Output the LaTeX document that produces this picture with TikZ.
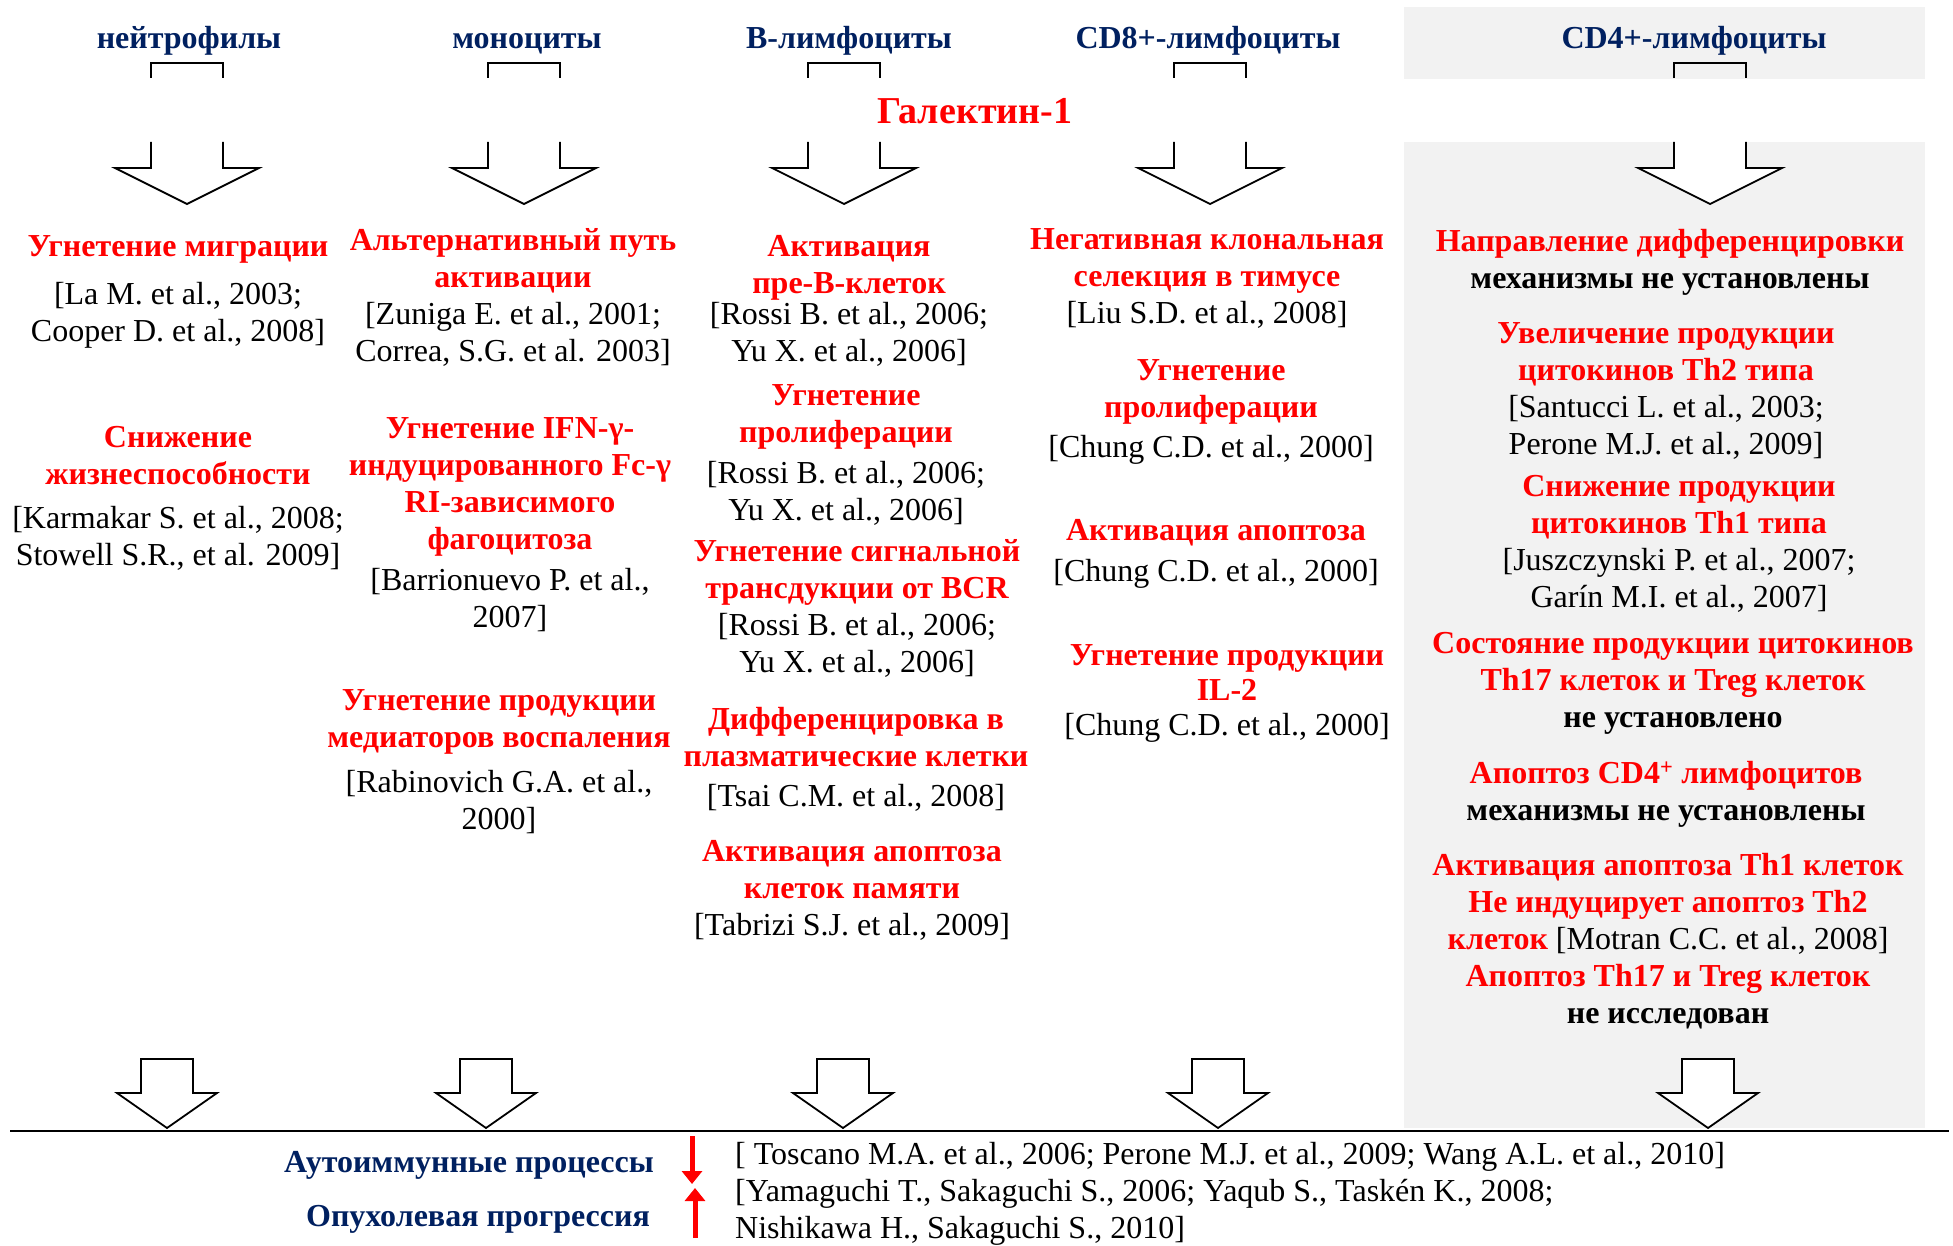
\documentclass[tikz,border=0pt]{standalone}
\usepackage{fontspec}
\setmainfont{Liberation Serif}
\usetikzlibrary{arrows.meta}
\definecolor{navy}{RGB}{0,32,96}
\definecolor{bgrey}{RGB}{242,242,242}
\newcommand{\eff}[1]{\textcolor{red}{\bfseries #1}}
\newcommand{\nb}[1]{\textbf{#1}}

\begin{document}
\begin{tikzpicture}[x=1pt, y=-1pt,
      every node/.style={inner sep=0pt, font=\fontsize{32}{37}\selectfont},
      cell/.style={align=center, anchor=north},
      cellhead/.style={text=navy, anchor=base, font=\fontsize{32}{37}\selectfont\bfseries},
      bigarrow/.style={draw, line width=1.8pt, fill=white, line join=miter},
      redarrow/.style={draw=red, line width=5pt, -{Triangle[width=20pt,length=13pt]}}]
    \useasboundingbox (0,0) rectangle (1953,1246);
    \fill[bgrey] (1404,7) rectangle (1925,79);           % CD4 column, top
    \fill[bgrey] (1404,142) rectangle (1925,1128);       % CD4 column, body
    % cell types
    \node[cellhead] (NEUT) at (189,49) {нейтрофилы};
    \node[cellhead] (MONO) at (527,49) {моноциты};
    \node[cellhead] (BLYM) at (849,49) {В-лимфоциты};
    \node[cellhead] (CD8) at (1208,49) {CD8+-лимфоциты};
    \node[cellhead] (CD4) at (1694,49) {CD4+-лимфоциты};
    \node[text=red, font=\fontsize{38}{44}\selectfont\bfseries] (GAL) at (975,111) {Галектин-1};
    % block arrows under the cell types
    \foreach \x in {187,524,844,1210,1710}{
      \draw[bigarrow, fill=none] (\x-36,78) -- (\x-36,63) -- (\x+36,63) -- (\x+36,78);
      \draw[bigarrow] (\x-36,142) -- (\x-36,168) -- (\x-72,168) -- (\x,204)
        -- (\x+72,168) -- (\x+36,168) -- (\x+36,142);
    }
    % neutrophils
    \node[cell] (NEUT1) at (178,230) {\strut\eff{Угнетение миграции}\\[11pt]{[}La M. et al., 2003;\\Cooper D. et al., 2008]};
    \node[cell] (NEUT2) at (178,421) {\strut\eff{Снижение}\\\eff{жизнеспособности}\\[7pt]{[}Karmakar S. et al., 2008;\\Stowell S.R., et al. 2009]};
    % monocytes
    \node[cell] (MONO1) at (513,224) {\strut\eff{Альтернативный путь}\\\eff{активации}\\{[}Zuniga E. et al., 2001;\\Correa, S.G. et al. 2003]};
    \node[cell] (MONO2) at (510,412) {\strut\eff{Угнетение IFN-γ-}\\\eff{индуцированного Fc-γ}\\\eff{RI-зависимого}\\\eff{фагоцитоза}\\[4pt]{[}Barrionuevo P. et al.,\\2007]};
    \node[cell] (MONO3) at (499,684) {\strut\eff{Угнетение продукции}\\\eff{медиаторов воспаления}\\[8pt]{[}Rabinovich G.A. et al.,\\2000]};
    % B cells
    \node[cell] (BLYM1) at (849,230) {\strut\eff{Активация}\\\eff{пре-В-клеток}\\[-6pt]{[}Rossi B. et al., 2006;\\Yu X. et al., 2006]};
    \node[cell] (BLYM2) at (846,379) {\strut\eff{Угнетение}\\\eff{пролиферации}\\[4pt]{[}Rossi B. et al., 2006;\\Yu X. et al., 2006]};
    \node[cell] (BLYM3) at (857,535) {\strut\eff{Угнетение сигнальной}\\\eff{трансдукции от BCR}\\{[}Rossi B. et al., 2006;\\Yu X. et al., 2006]};
    \node[cell] (BLYM4) at (856,703) {\strut\eff{Дифференцировка в}\\\eff{плазматические клетки}\\[3pt]{[}Tsai C.M. et al., 2008]};
    \node[cell] (BLYM5) at (852,835) {\strut\eff{Активация апоптоза}\\\eff{клеток памяти}\\{[}Tabrizi S.J. et al., 2009]};
    % CD8 cells
    \node[cell] (CD8A) at (1207,223) {\strut\eff{Негативная клональная}\\\eff{селекция в тимусе}\\{[}Liu S.D. et al., 2008]};
    \node[cell] (CD8B) at (1211,354) {\strut\eff{Угнетение}\\\eff{пролиферации}\\[3pt]{[}Chung C.D. et al., 2000]};
    \node[cell] (CD8C) at (1216,514) {\strut\eff{Активация апоптоза}\\[4pt]{[}Chung C.D. et al., 2000]};
    \node[cell] (CD8D) at (1227,639) {\strut\eff{Угнетение продукции}\\[-2pt]\eff{IL-2}\\[-2pt]{[}Chung C.D. et al., 2000]};
    % CD4 cells
    \node[cell] (CD4A) at (1670,225) {\strut\eff{Направление дифференцировки}\\\nb{механизмы не установлены}};
    \node[cell] (CD4B) at (1666,317) {\strut\eff{Увеличение продукции}\\\eff{цитокинов Th2 типа}\\{[}Santucci L. et al., 2003;\\Perone M.J. et al., 2009]};
    \node[cell] (CD4C) at (1679,470) {\strut\eff{Снижение продукции}\\\eff{цитокинов Th1 типа}\\{[}Juszczynski P. et al., 2007;\\Garín M.I. et al., 2007]};
    \node[cell] (CD4D) at (1673,627) {\strut\eff{Состояние продукции цитокинов}\\\eff{Th17 клеток и Treg клеток}\\\nb{не установлено}};
    \node[cell] (CD4E) at (1666,757) {\strut\eff{Апоптоз CD4\textsuperscript{+} лимфоцитов}\\\nb{механизмы не установлены}};
    \node[cell] (CD4F) at (1668,849) {\strut\eff{Активация апоптоза Th1 клеток}\\\eff{Не индуцирует апоптоз Th2}\\\eff{клеток} [Motran C.C. et al., 2008]\\\eff{Апоптоз Th17 и Treg клеток}\\\nb{не исследован}};
    % block arrows to the outcome line
    \foreach \x in {167,486,843,1218,1708}{
      \draw[bigarrow] (\x-26,1059) -- (\x+26,1059) -- (\x+26,1093) -- (\x+50,1093)
        -- (\x,1128) -- (\x-50,1093) -- (\x-26,1093) -- cycle;
    }
    \draw[line width=2.2pt] (10,1131) -- (1949,1131);
    % outcomes
    \node[cellhead] (AUTO) at (469,1172) {Аутоиммунные процессы};
    \node[cellhead] (TUMOR) at (478,1226) {Опухолевая прогрессия};
    \coordinate (DN0) at (692,1136);
    \coordinate (DN1) at (692,1184);
    \coordinate (UP0) at (695,1238);
    \coordinate (UP1) at (695,1188);
    \draw[redarrow] (DN0) -- (DN1);                       % decrease
    \draw[redarrow] (UP0) -- (UP1);                       % increase
    \node[align=left, anchor=north west] (REFS) at (735,1138) {\strut[ Toscano M.A. et al., 2006; Perone M.J. et al., 2009; Wang A.L. et al., 2010]\\{[}Yamaguchi T., Sakaguchi S., 2006; Yaqub S., Taskén K., 2008;\\Nishikawa H., Sakaguchi S., 2010]};
\end{tikzpicture}
\end{document}
